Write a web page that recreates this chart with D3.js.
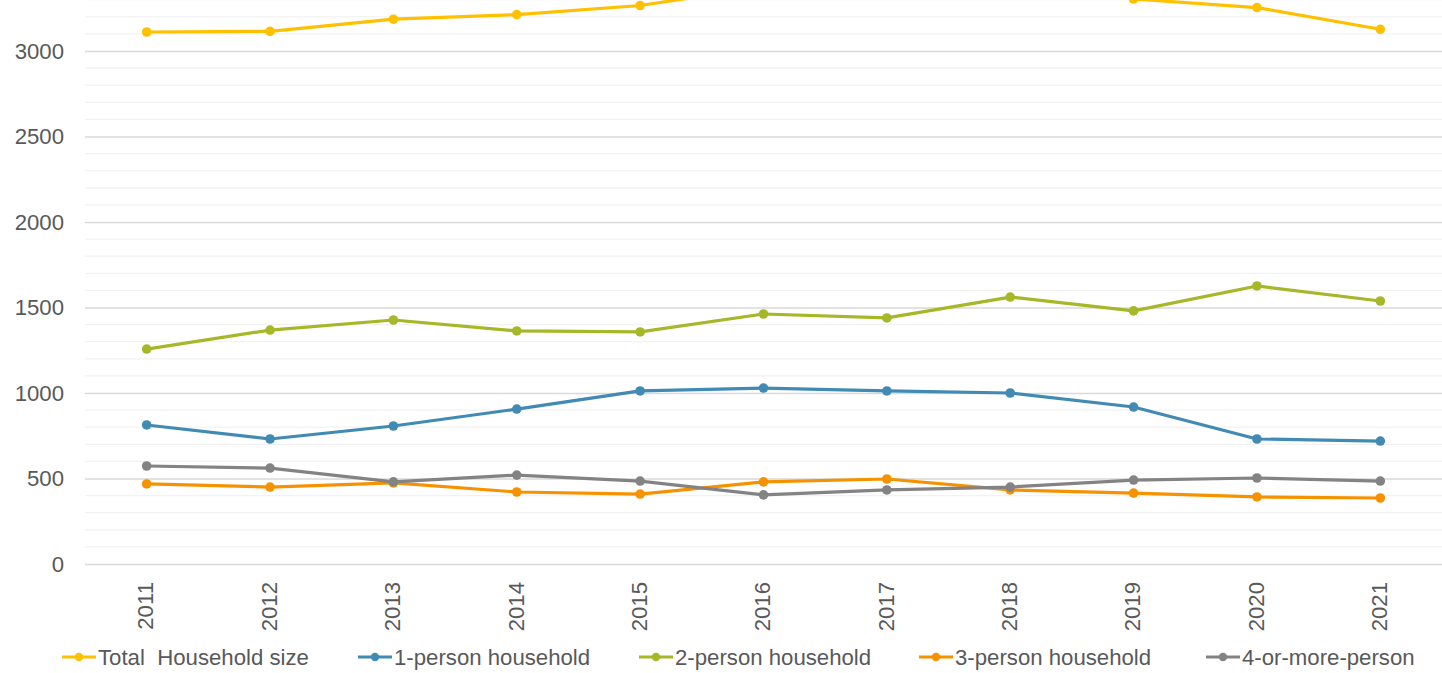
<!DOCTYPE html>
<html>
<head>
<meta charset="utf-8">
<script src="https://cdn.jsdelivr.net/npm/d3@7"></script>
<style>
  html, body { margin: 0; padding: 0; background: #fff; overflow: hidden; }
  svg { display: block; font-family: "Liberation Sans", Arial, sans-serif; }
</style>
</head>
<body>
<svg id="chart" width="1442" height="673"></svg>
<script>
// Households by size, 2011–2021
const years = ["2011","2012","2013","2014","2015","2016","2017","2018","2019","2020","2021"];
const totalHouseholds = [3111, 3115, 3186, 3213, 3266, 3375, 3381, 3444, 3304, 3254, 3127];
const onePerson       = [813, 731, 807, 906, 1012, 1029, 1012, 1000, 918, 731, 719];
const twoPerson       = [1257, 1368, 1427, 1363, 1357, 1462, 1439, 1561, 1480, 1626, 1538];
const threePerson     = [468, 450, 474, 421, 409, 480, 497, 433, 415, 392, 386];
const fourPlus        = [573, 561, 480, 520, 485, 404, 433, 450, 491, 503, 485];
const seriesNames  = ["Total  Household size", "1-person household", "2-person household", "3-person household", "4-or-more-person"];
const seriesColors = ["#FFC000", "#418AB3", "#A6B727", "#F69200", "#838383"];
const yTicks = [0, 500, 1000, 1500, 2000, 2500, 3000];

const seriesValues = [totalHouseholds, onePerson, twoPerson, threePerson, fourPlus];
const series = seriesNames.map((name, i) => ({ name, color: seriesColors[i], values: seriesValues[i] }));

const svg = d3.select("#chart");
const left = 85, right = 1442, zeroY = 564, y3000 = 51;
const fontSize = "22.2px";

const x = d3.scaleBand().domain(years).range([left, right]);
const y = d3.scaleLinear().domain([0, 3000]).range([zeroY, y3000]);

// Minor gridlines every 100 (continuing above the top tick)
const minor = d3.range(0, 3600, 100).filter(v => v % 500 !== 0);
svg.append("g").selectAll("line").data(minor).join("line")
  .attr("x1", left).attr("x2", right)
  .attr("y1", d => y(d)).attr("y2", d => y(d))
  .attr("stroke", "#F2F2F2").attr("stroke-width", 1.3);

// Major gridlines + labels via axis
const yAxis = d3.axisLeft(y).tickValues(yTicks).tickSize(-(right - left)).tickPadding(21).tickFormat(d3.format("d"));
const gy = svg.append("g").attr("transform", `translate(${left},0)`).call(yAxis);
gy.select(".domain").remove();
gy.selectAll(".tick line").attr("stroke", "#D9D9D9").attr("stroke-width", 1.3);
gy.selectAll(".tick text").attr("fill", "#595959").style("font-size", fontSize).attr("font-family", null);

// X axis labels, rotated
const xAxis = d3.axisBottom(x).tickSize(0).tickPadding(0);
const gx = svg.append("g").attr("transform", `translate(0,${zeroY})`).call(xAxis);
gx.select(".domain").remove();
gx.selectAll(".tick text")
  .attr("fill", "#595959").style("font-size", fontSize).attr("font-family", null)
  .attr("transform", "rotate(-90)")
  .attr("text-anchor", "end")
  .attr("x", -18).attr("y", -1).attr("dy", "0.35em");

// Lines and markers
const line = d3.line().x((d, i) => x(years[i]) + x.bandwidth() / 2).y(d => y(d));
const gs = svg.append("g").selectAll("g").data(series).join("g");
gs.append("path")
  .attr("d", d => line(d.values))
  .attr("fill", "none").attr("stroke", d => d.color).attr("stroke-width", 3.2)
  .attr("stroke-linejoin", "round");
gs.each(function(s) {
  d3.select(this).selectAll("circle").data(s.values).join("circle")
    .attr("cx", (d, i) => x(years[i]) + x.bandwidth() / 2)
    .attr("cy", d => y(d))
    .attr("r", 4.8).attr("fill", s.color);
});

// Legend
const legendX = [62, 358, 639, 919, 1206];
const lg = svg.append("g").selectAll("g").data(series).join("g")
  .attr("transform", (d, i) => `translate(${legendX[i]},657)`);
lg.append("line").attr("x1", 0).attr("x2", 34).attr("stroke", d => d.color).attr("stroke-width", 3.2);
lg.append("circle").attr("cx", 17).attr("r", 4.2).attr("fill", d => d.color);
lg.append("text").attr("x", 36).attr("dy", "0.35em")
  .attr("fill", "#595959").style("font-size", fontSize).style("white-space", "pre")
  .text(d => d.name);
</script>
</body>
</html>
